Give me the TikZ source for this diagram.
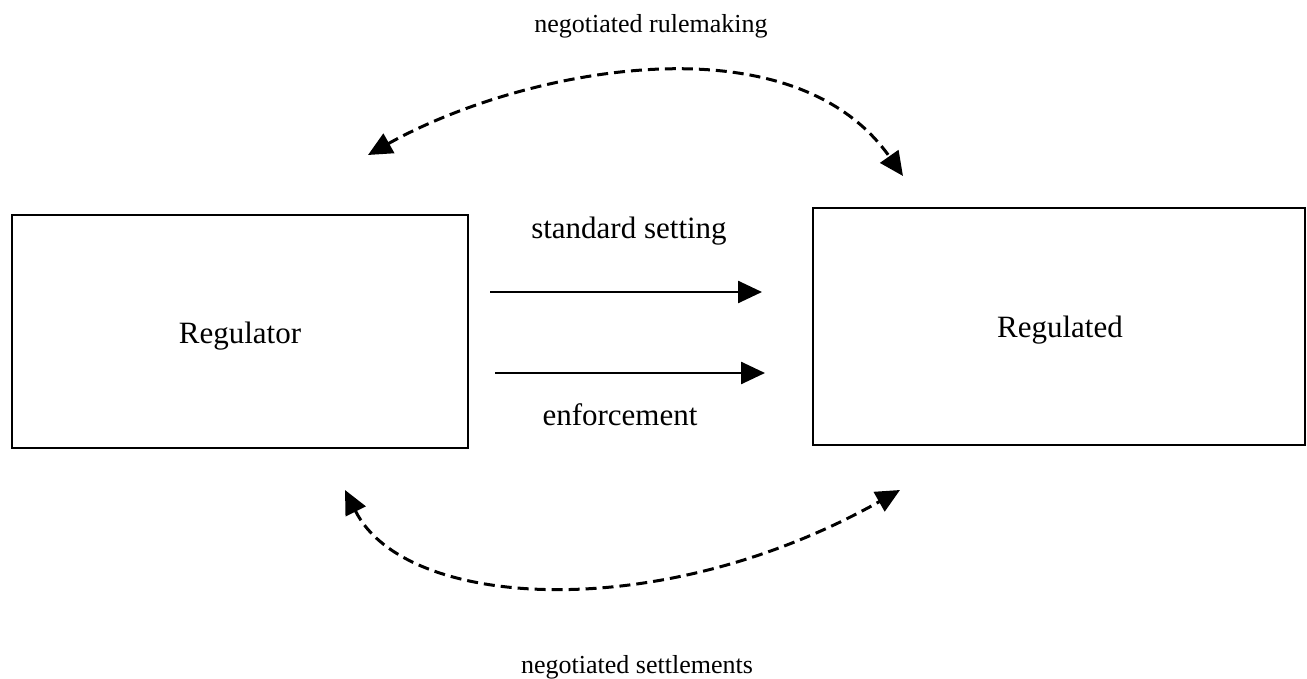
\documentclass[tikz,border=0pt]{standalone}
\usepackage{fontspec}
\setmainfont{Liberation Serif}
\usetikzlibrary{arrows.meta}
\begin{document}
\begin{tikzpicture}[x=1pt,y=-1pt,
  box/.style={draw,line width=2.6pt},
  big/.style={font=\fontsize{31}{36}\selectfont,anchor=base,inner sep=0pt},
  small/.style={font=\fontsize{26}{30}\selectfont,anchor=base,inner sep=0pt},
  arr/.style={line width=2.6pt,-{Triangle[length=24pt,width=22pt]}},
  dashedarr/.style={line width=3pt,dash pattern=on 11pt off 6pt,
     {Triangle[length=24pt,width=22pt]}-{Triangle[length=24pt,width=22pt]}}]
\useasboundingbox (0,0) rectangle (1307,679);
% boxes
\draw[box] (12,215) rectangle (468,448);
\draw[box] (813,208) rectangle (1305,445);
\node[big] (regulator) at (240,343) {Regulator};
\node[big] (regulated) at (1060,337) {Regulated};
% straight arrows
\coordinate (a1s) at (490,292);
\coordinate (a1e) at (762,292);
\coordinate (a2s) at (495,373);
\coordinate (a2e) at (765,373);
\draw[arr] (a1s) -- (a1e);
\draw[arr] (a2s) -- (a2e);
\node[big] (std) at (629,239) {standard setting};
\node[big] (enf) at (620,425) {enforcement};
% dashed curves
\coordinate (tl) at (368,155);
\coordinate (tr) at (903,176);
\coordinate (bl) at (345,490);
\coordinate (br) at (900,490);
\draw[dashedarr] (tl) .. controls (520,70) and (790,15) .. (tr);
\draw[dashedarr] (bl) .. controls (405,610) and (660,625) .. (br);
\node[small] (rule) at (651,33) {negotiated rulemaking};
\node[small] (settle) at (637,673) {negotiated settlements};
\end{tikzpicture}
\end{document}
